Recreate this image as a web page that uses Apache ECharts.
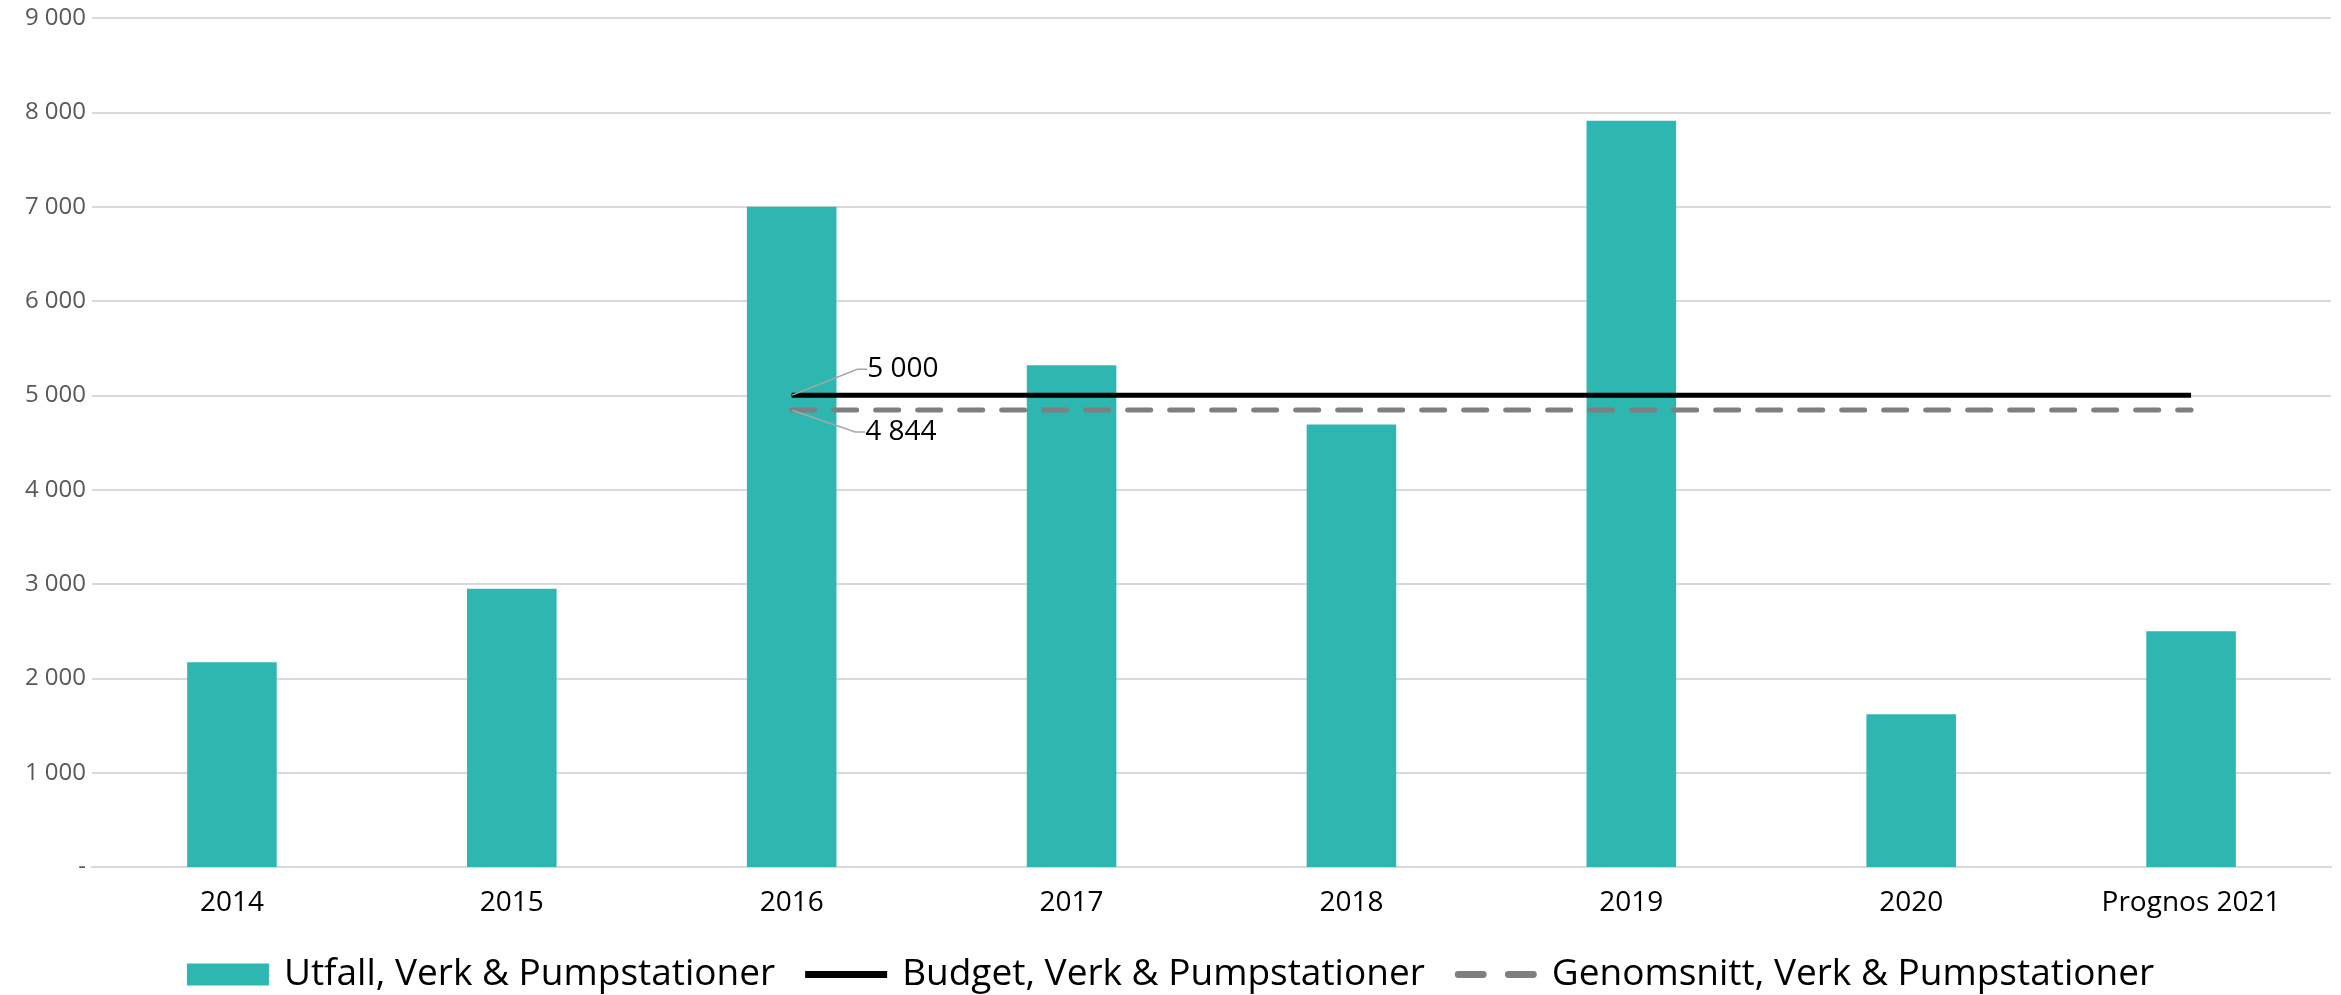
<!DOCTYPE html>
<html><head><meta charset="utf-8">
<script src="https://cdn.jsdelivr.net/npm/echarts@6/dist/echarts.min.js"></script>
<style>html,body{margin:0;padding:0;background:#fff}#c{width:2341px;height:995px}</style>
</head><body><div id="c"></div>
<script>
const categories = ['2014', '2015', '2016', '2017', '2018', '2019', '2020', 'Prognos 2021'];
const utfall = [2170, 2950, 7000, 5320, 4690, 7910, 1620, 2500];
const budget = [null, null, 5000, 5000, 5000, 5000, 5000, 5000];
const genomsnitt = [null, null, 4844, 4844, 4844, 4844, 4844, 4844];
const seriesNames = ['Utfall, Verk & Pumpstationer', 'Budget, Verk & Pumpstationer', 'Genomsnitt, Verk & Pumpstationer'];
const yMin = 0, yMax = 9000, yInterval = 1000;

function fmt(v) {
  if (v === 0) return '-';
  return String(Math.round(v)).replace(/\B(?=(\d{3})+(?!\d))/g, ' ');
}
function withFirstLabel(arr) {
  const first = arr.findIndex(v => v !== null);
  return arr.map((v, i) => i === first
    ? { value: v, symbol: 'circle', symbolSize: 1, label: { show: true } }
    : v);
}

const FONT = 'Open Sans';
const solidIcon = 'path://M0,0H72V6H0Z';
const dashIcon = 'path://M3,0H25A3,3 0 0 1 25,6H3A3,3 0 0 1 3,0Z M47,0H69A3,3 0 0 1 69,6H47A3,3 0 0 1 47,0Z';
const chart = echarts.init(document.getElementById('c'), null, { renderer: 'canvas' });
chart.setOption({
  backgroundColor: '#ffffff',
  animation: false,
  grid: { left: 92, right: 10, top: 18, bottom: 128 },
  legend: {
    bottom: -3,
    left: 'center',
    itemGap: 30,
    itemWidth: 82,
    itemHeight: 22,
    textStyle: { fontFamily: FONT, fontSize: 37, color: '#000000', padding: [0, 0, 0, 10] },
    data: [
      { name: seriesNames[0], icon: 'rect' },
      { name: seriesNames[1], icon: solidIcon },
      { name: seriesNames[2], icon: dashIcon }
    ]
  },
  xAxis: {
    type: 'category',
    data: categories,
    axisTick: { show: false },
    axisLine: { show: true, lineStyle: { color: '#d9d9d9', width: 2 } },
    axisLabel: { fontFamily: FONT, fontSize: 28, color: '#000000', margin: 22 }
  },
  yAxis: {
    type: 'value',
    min: yMin, max: yMax, interval: yInterval,
    axisLine: { show: false },
    axisTick: { show: false },
    splitLine: { lineStyle: { color: '#d9d9d9', width: 2 } },
    axisLabel: { fontFamily: FONT, fontSize: 24, color: '#595959', margin: 6, formatter: fmt }
  },
  series: [
    {
      name: seriesNames[0],
      type: 'bar',
      data: utfall,
      barWidth: '32%',
      itemStyle: { color: '#2EB7B0' }
    },
    {
      name: seriesNames[1],
      type: 'line',
      data: withFirstLabel(budget),
      symbol: 'none',
      showSymbol: true,
      lineStyle: { color: '#000000', width: 5 },
      itemStyle: { color: '#000000' },
      label: {
        position: 'right', distance: 0,
        fontFamily: FONT, fontSize: 28, color: '#000000',
        formatter: p => fmt(p.value)
      },
      labelLayout: { dx: 75, dy: -26 },
      labelLine: { show: true, length2: 10, lineStyle: { color: '#a6a6a6', width: 1.5 } },
      z: 3
    },
    {
      name: seriesNames[2],
      type: 'line',
      data: withFirstLabel(genomsnitt),
      symbol: 'none',
      showSymbol: true,
      lineStyle: { color: '#7f7f7f', width: 5, type: [23, 19], cap: 'round' },
      itemStyle: { color: '#7f7f7f' },
      label: {
        position: 'right', distance: 0,
        fontFamily: FONT, fontSize: 28, color: '#000000',
        formatter: p => fmt(p.value)
      },
      labelLayout: { dx: 73, dy: 22 },
      labelLine: { show: true, length2: 10, lineStyle: { color: '#a6a6a6', width: 1.5 } },
      z: 3
    }
  ]
});
</script>
</body></html>
